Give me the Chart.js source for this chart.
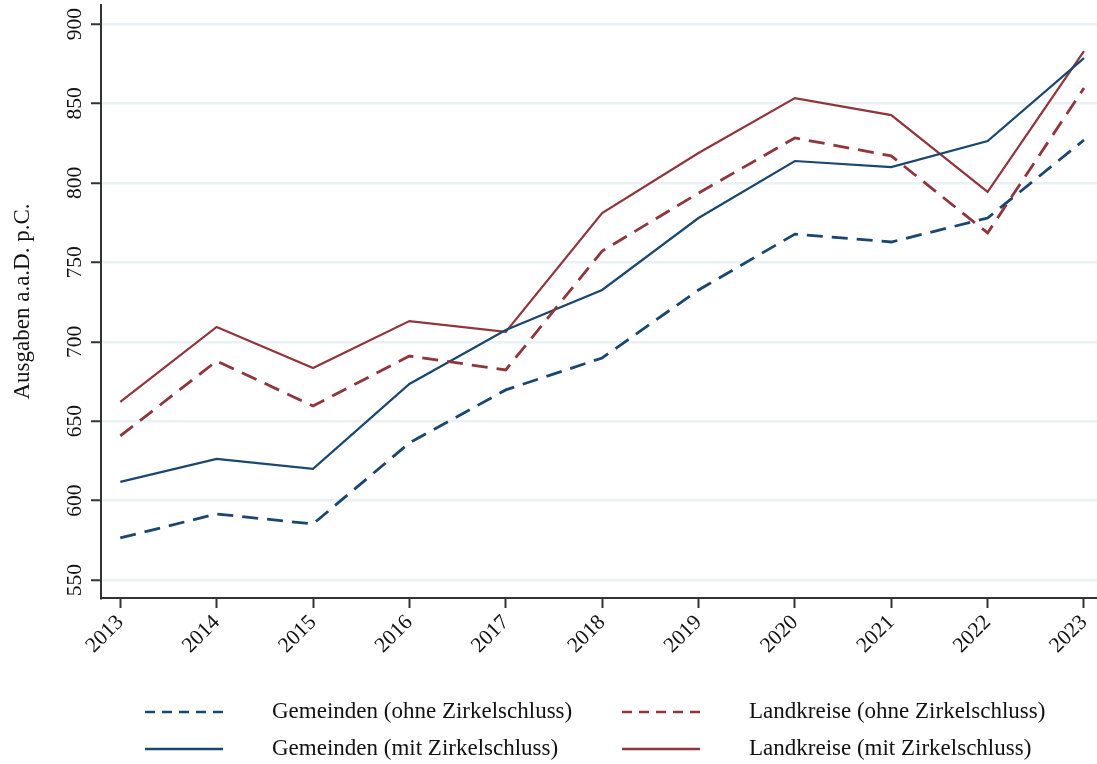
<!DOCTYPE html>
<html>
<head>
<meta charset="utf-8">
<script src="https://cdn.jsdelivr.net/npm/chart.js@4.4.1/dist/chart.umd.min.js"></script>
<style>
  html, body { margin: 0; padding: 0; background: #fff; }
  #wrap { width: 1097px; height: 764px; position: relative; }
</style>
</head>
<body>
<div id="wrap"><canvas id="chart"></canvas></div>
<script>
// values
const years = [2013, 2014, 2015, 2016, 2017, 2018, 2019, 2020, 2021, 2022, 2023];
const gemeindenOhne = [576.5, 591.6, 585.3, 636.3, 669.7, 689.8, 732.6, 767.8, 762.8, 777.9, 827.0];
const gemeindenMit = [611.8, 626.3, 620.0, 673.4, 707.4, 732.6, 777.9, 813.8, 810.0, 826.4, 878.6];
const landkreiseOhne = [640.7, 687.9, 659.6, 691.0, 682.3, 757.1, 793.6, 828.3, 817.0, 768.5, 859.7];
const landkreiseMit = [662.1, 709.3, 683.5, 713.0, 706.2, 781.0, 818.8, 853.4, 842.7, 794.3, 883.0];
const yTicks = [550, 600, 650, 700, 750, 800, 850, 900];
const yTitle = 'Ausgaben a.a.D. p.C.';

const BLUE = '#1a476f';
const RED = '#90353b';
const SERIF = '"Liberation Serif", "Times New Roman", serif';

const series = [
  { label: 'Gemeinden (ohne Zirkelschluss)', values: gemeindenOhne, color: BLUE, dashed: true },
  { label: 'Landkreise (ohne Zirkelschluss)', values: landkreiseOhne, color: RED, dashed: true },
  { label: 'Gemeinden (mit Zirkelschluss)', values: gemeindenMit, color: BLUE, dashed: false },
  { label: 'Landkreise (mit Zirkelschluss)', values: landkreiseMit, color: RED, dashed: false }
];

function toPoints(vals) {
  return years.map((y, i) => ({ x: y, y: vals[i] }));
}

// y tick labels, axis title and the two-column legend
const extras = {
  id: 'extras',
  afterDraw(chart) {
    const ctx = chart.ctx;
    const ys = chart.scales.y;
    ctx.save();
    ctx.fillStyle = '#111';
    ctx.font = '21.5px ' + SERIF;
    ctx.textAlign = 'center';
    ctx.textBaseline = 'middle';
    yTicks.forEach(v => {
      const py = ys.getPixelForValue(v);
      ctx.save();
      ctx.translate(75, py);
      ctx.rotate(-Math.PI / 2);
      ctx.fillText(String(v), 0, 0);
      ctx.restore();
    });
    ctx.font = '23px ' + SERIF;
    ctx.save();
    ctx.translate(23, (chart.chartArea.top + chart.chartArea.bottom) / 2);
    ctx.rotate(-Math.PI / 2);
    ctx.fillText(yTitle, 0, 0);
    ctx.restore();

    // legend
    const slots = [
      { x: 145, y: 712 }, { x: 622, y: 712 },
      { x: 145, y: 749 }, { x: 622, y: 749 }
    ];
    ctx.font = '23px ' + SERIF;
    ctx.textAlign = 'left';
    series.forEach((s, i) => {
      const p = slots[i];
      ctx.beginPath();
      ctx.strokeStyle = s.color;
      ctx.lineWidth = 2.5;
      ctx.setLineDash(s.dashed ? [10, 7] : []);
      ctx.moveTo(p.x, p.y);
      ctx.lineTo(p.x + 78, p.y);
      ctx.stroke();
      ctx.setLineDash([]);
      ctx.fillStyle = '#111';
      ctx.fillText(s.label, p.x + 127, p.y);
    });
    ctx.restore();
  }
};

const ctx = document.getElementById('chart').getContext('2d');
new Chart(ctx, {
  type: 'line',
  data: {
    datasets: series.map(s => ({
      label: s.label,
      data: toPoints(s.values),
      borderColor: s.color,
      borderWidth: s.dashed ? 2.8 : 2.2,
      borderDash: s.dashed ? [16, 9] : [],
      pointRadius: 0,
      tension: 0,
      fill: false
    }))
  },
  options: {
    responsive: true,
    maintainAspectRatio: false,
    animation: false,
    devicePixelRatio: 1,
    layout: { padding: { top: 5, right: 0, left: 0, bottom: 0 } },
    plugins: {
      legend: { display: false },
      tooltip: { enabled: false }
    },
    scales: {
      x: {
        type: 'linear',
        min: 2012.8,
        max: 2023.135,
        afterBuildTicks: s => { s.ticks = years.map(v => ({ value: v })); },
        afterFit: s => { s.height = 166; s.paddingLeft = 0; s.paddingRight = 0; },
        grid: { drawOnChartArea: false, tickLength: 10, tickColor: '#333', tickWidth: 2 },
        border: { color: '#333', width: 2 },
        ticks: {
          minRotation: 45,
          maxRotation: 45,
          padding: 2,
          color: '#111',
          font: { family: SERIF, size: 21.5 },
          callback: v => String(v)
        }
      },
      y: {
        min: 538.7,
        max: 912,
        afterBuildTicks: s => { s.ticks = yTicks.map(v => ({ value: v })); },
        afterFit: s => { s.width = 101; s.paddingTop = 0; s.paddingBottom = 0; },
        grid: { color: '#e9f1f3', lineWidth: 2.5, tickLength: 10, tickColor: '#333', tickWidth: 2 },
        border: { color: '#333', width: 2 },
        ticks: { display: false }
      }
    }
  },
  plugins: [extras]
});
</script>
</body>
</html>
